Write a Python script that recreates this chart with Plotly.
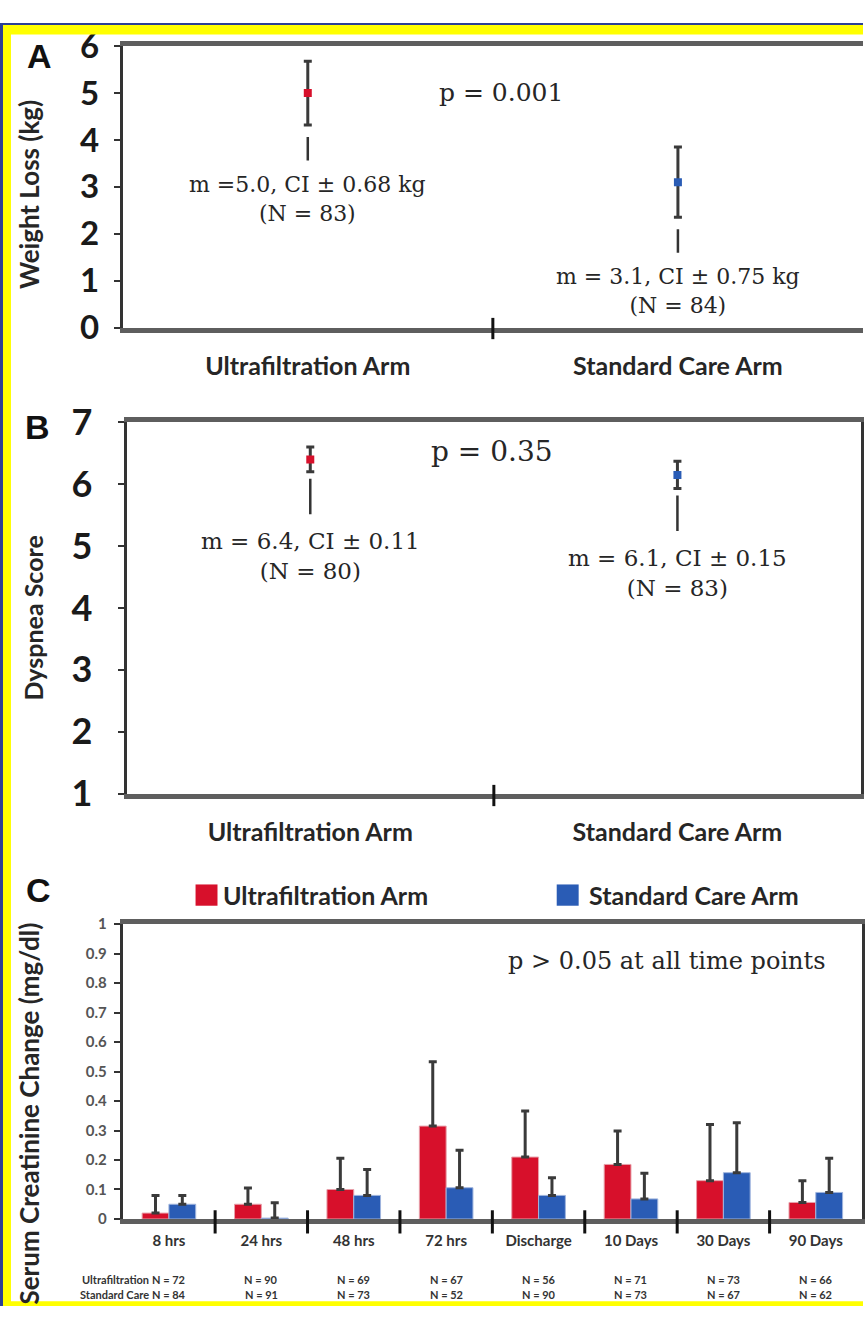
import plotly.graph_objects as go

W, H = 865, 1327

# ---------------- data ----------------
arms = ["Ultrafiltration Arm", "Standard Care Arm"]
arm_colors = ["#d7102b", "#2a5cb5"]

# Panel A: weight loss (kg)
weight_mean = [5.0, 3.1]
weight_ci = [0.68, 0.75]
weight_labels = ["m =5.0, CI ± 0.68 kg<br>(N = 83)", "m = 3.1, CI ± 0.75 kg<br>(N = 84)"]
weight_p = "p = 0.001"

# Panel B: dyspnea score
dyspnea_mean = [6.4, 6.15]
dyspnea_err = [0.2, 0.22]
dyspnea_labels = ["m = 6.4, CI ± 0.11<br>(N = 80)", "m = 6.1, CI ± 0.15<br>(N = 83)"]
dyspnea_p = "p = 0.35"

# Panel C: serum creatinine change (mg/dl)
timepoints = ["8 hrs", "24 hrs", "48 hrs", "72 hrs", "Discharge", "10 Days", "30 Days", "90 Days"]
uf_change = [0.02, 0.05, 0.10, 0.315, 0.21, 0.185, 0.13, 0.056]
uf_err = [0.06, 0.055, 0.106, 0.218, 0.156, 0.113, 0.19, 0.074]
sc_change = [0.05, 0.003, 0.08, 0.106, 0.08, 0.068, 0.157, 0.09]
sc_err = [0.03, 0.052, 0.088, 0.127, 0.06, 0.087, 0.169, 0.116]
uf_n = [72, 90, 69, 67, 56, 71, 73, 66]
sc_n = [84, 91, 73, 52, 90, 73, 67, 62]
creat_p = "p > 0.05 at all time points"
c_ticks = [0, 0.1, 0.2, 0.3, 0.4, 0.5, 0.6, 0.7, 0.8, 0.9, 1]
c_ticktext = ["0", "0.1", "0.2", "0.3", "0.4", "0.5", "0.6", "0.7", "0.8", "0.9", "1"]

# ---------------- styling ----------------
COND = "Lato, Roboto, sans-serif"
SERIF = "DejaVu Serif, Liberation Serif, serif"
SANS = "Liberation Sans, Arial, sans-serif"
ERR_COL = "#3a3a3a"
TXT = "#262626"


def px_x(p):
    return p / W


def px_y(p):
    return 1 - p / H


fig = go.Figure()

# Panel A
for i in range(2):
    fig.add_trace(go.Scatter(
        x=[arms[i]], y=[weight_mean[i]], mode="markers",
        marker=dict(symbol="square", size=8, color=arm_colors[i]),
        error_y=dict(type="data", array=[weight_ci[i]], color=ERR_COL, thickness=3, width=4),
        xaxis="x", yaxis="y", showlegend=False))

# Panel B
for i in range(2):
    fig.add_trace(go.Scatter(
        x=[arms[i]], y=[dyspnea_mean[i]], mode="markers",
        marker=dict(symbol="square", size=8, color=arm_colors[i]),
        error_y=dict(type="data", array=[dyspnea_err[i]], color=ERR_COL, thickness=3, width=4),
        xaxis="x2", yaxis="y2", showlegend=False))

# Panel C
fig.add_trace(go.Bar(
    x=timepoints, y=uf_change, name="Ultrafiltration Arm",
    marker=dict(color=arm_colors[0], line=dict(color="#e7a0aa", width=1)),
    error_y=dict(type="data", symmetric=False, array=uf_err, arrayminus=[0] * len(uf_err),
                 color=ERR_COL, thickness=3, width=4),
    xaxis="x3", yaxis="y3", showlegend=False))
fig.add_trace(go.Bar(
    x=timepoints, y=sc_change, name="Standard Care Arm",
    marker=dict(color=arm_colors[1], line=dict(color="#9fb4dd", width=1)),
    error_y=dict(type="data", symmetric=False, array=sc_err, arrayminus=[0] * len(sc_err),
                 color=ERR_COL, thickness=3, width=4),
    xaxis="x3", yaxis="y3", showlegend=False))

xcommon = dict(showgrid=False, zeroline=False, ticks="", showline=True,
               linecolor="#5e5e5e", linewidth=5, mirror=True, fixedrange=True)
ycommon = dict(showgrid=False, zeroline=False, ticks="outside", ticklen=6, tickwidth=2,
               tickcolor="#333", showline=True, linecolor="#333", linewidth=3)

fig.update_layout(
    width=W, height=H, margin=dict(l=0, r=0, t=0, b=0),
    paper_bgcolor="white", plot_bgcolor="white",
    bargap=0.42, bargroupgap=0, barmode="group",
    xaxis=dict(**xcommon, domain=[px_x(123), 1.0], anchor="y", range=[-0.5, 1.5],
               type="category", tickfont=dict(family=COND, size=25, color=TXT, weight="bold"),
               ticklabelstandoff=12),
    yaxis=dict(**ycommon, domain=[px_y(315), px_y(24)], anchor="x", range=[0, 6],
               tickvals=[0, 1, 2, 3, 4, 5, 6], mirror=False, ticklabelstandoff=8,
               tickfont=dict(family=COND, size=33, color="#1a1a1a", weight="bold")),
    xaxis2=dict(**xcommon, domain=[px_x(127), px_x(863)], anchor="y2", range=[-0.5, 1.5],
                type="category", tickfont=dict(family=COND, size=25, color=TXT, weight="bold"),
                ticklabelstandoff=12),
    yaxis2=dict(**ycommon, domain=[px_y(797), px_y(413)], anchor="x2", range=[1, 7],
                tickvals=[1, 2, 3, 4, 5, 6, 7], mirror=True, ticklabelstandoff=18,
                tickfont=dict(family=COND, size=36, color="#1a1a1a", weight="bold")),
    xaxis3=dict(**xcommon, domain=[px_x(123), px_x(864)], anchor="y3", range=[-0.5, 7.5],
                type="category", tickfont=dict(family=COND, size=15, color="#333", weight="bold"),
                ticklabelstandoff=4),
    yaxis3=dict(**ycommon, domain=[px_y(1237), px_y(932)], anchor="x3", range=[0, 1],
                tickvals=c_ticks, ticktext=c_ticktext, mirror=True, ticklabelstandoff=4,
                tickfont=dict(family=COND, size=15, color="#555", weight="bold")),
)

ann = []
shapes = []


def txt_ann(x, y, text, font, **kw):
    d = dict(x=x, y=y, xref="paper", yref="paper", text=text, showarrow=False,
             xanchor="center", yanchor="middle", font=font)
    d.update(kw)
    return d


# point labels with pointer lines
for i in range(2):
    ann.append(dict(x=arms[i], y=weight_mean[i] - weight_ci[i], xref="x", yref="y",
                    text=weight_labels[i], showarrow=True, arrowhead=0, arrowwidth=2.5,
                    arrowcolor="#333", ax=0, ay=74, standoff=12, startstandoff=10,
                    font=dict(family=SERIF, size=22, color=TXT)))
    ann.append(dict(x=arms[i], y=dyspnea_mean[i] - dyspnea_err[i], xref="x2", yref="y2",
                    text=dyspnea_labels[i], showarrow=True, arrowhead=0, arrowwidth=2.5,
                    arrowcolor="#333", ax=0, ay=84, standoff=7, startstandoff=12,
                    font=dict(family=SERIF, size=23, color=TXT)))

# p values
ann.append(txt_ann(px_x(502), px_y(72), weight_p, dict(family=SERIF, size=25, color=TXT)))
ann.append(txt_ann(px_x(493), px_y(443), dyspnea_p, dict(family=SERIF, size=28, color=TXT)))
ann.append(txt_ann(px_x(668), px_y(970), creat_p, dict(family=SERIF, size=24, color=TXT)))

# panel letters
for letter, (lx, ly) in zip(["A", "B", "C"], [(40, 34), (38, 418), (39, 897)]):
    ann.append(txt_ann(px_x(lx), px_y(ly), letter,
                       dict(family=SANS, size=34, color="#111", weight="bold")))

# y-axis titles
for txt, (tx, ty), fs in zip(["Weight Loss (kg)", "Dyspnea Score", "Serum Creatinine Change (mg/dl)"],
                             [(29, 177), (33, 615), (29, 1128)], [26, 25, 26]):
    ann.append(txt_ann(px_x(tx), px_y(ty), txt,
                       dict(family=COND, size=fs, color=TXT, weight="bold"), textangle=-90))

# legend for panel C
for i, (lx, tx) in enumerate([(207, 222), (569, 588)]):
    shapes.append(dict(type="rect", xref="paper", yref="paper",
                       x0=px_x(lx - 11), x1=px_x(lx + 11), y0=px_y(913), y1=px_y(891),
                       fillcolor=arm_colors[i], line=dict(width=0)))
    ann.append(txt_ann(px_x(tx), px_y(902), arms[i],
                       dict(family=COND, size=25, color=TXT, weight="bold"), xanchor="left"))

# N rows under panel C
nfont = dict(family=COND, size=11, color="#333", weight="bold")
for i, tp in enumerate(timepoints):
    ann.append(dict(x=tp, y=px_y(1300), xref="x3", yref="paper", text=f"N = {uf_n[i]}",
                    showarrow=False, xanchor="center", yanchor="middle", font=nfont))
    ann.append(dict(x=tp, y=px_y(1315), xref="x3", yref="paper", text=f"N = {sc_n[i]}",
                    showarrow=False, xanchor="center", yanchor="middle", font=nfont))
ann.append(dict(x=timepoints[0], y=px_y(1300), xref="x3", yref="paper", text="Ultrafiltration",
                xanchor="right", yanchor="middle", xshift=-18, showarrow=False, font=nfont))
ann.append(dict(x=timepoints[0], y=px_y(1315), xref="x3", yref="paper", text="Standard Care",
                xanchor="right", yanchor="middle", xshift=-18, showarrow=False, font=nfont))

# category separator ticks crossing the x axes
for xr, n, y0, y1 in [("x", 2, 305, 327), ("x2", 2, 788, 810),
                      ("x3", len(timepoints), 1228, 1252)]:
    for k in range(n - 1):
        shapes.append(dict(type="line", xref=xr, yref="paper", x0=k + 0.5, x1=k + 0.5,
                           y0=px_y(y1), y1=px_y(y0), line=dict(color="#111", width=3)))

# yellow/blue frame
frame_y = "#ffff00"
shapes += [
    dict(type="rect", xref="paper", yref="paper", x0=0, x1=1, y0=px_y(12), y1=1,
         fillcolor=frame_y, line=dict(width=0), layer="above"),
    dict(type="rect", xref="paper", yref="paper", x0=0, x1=px_x(11), y0=0, y1=1,
         fillcolor=frame_y, line=dict(width=0), layer="above"),
    dict(type="rect", xref="paper", yref="paper", x0=0, x1=1, y0=0, y1=px_y(1322),
         fillcolor=frame_y, line=dict(width=0), layer="above"),
    dict(type="rect", xref="paper", yref="paper", x0=0, x1=1, y0=px_y(2), y1=1,
         fillcolor="#2b3f96", line=dict(width=0), layer="above"),
    dict(type="rect", xref="paper", yref="paper", x0=0, x1=px_x(3), y0=0, y1=1,
         fillcolor="#2b3f96", line=dict(width=0), layer="above"),
]

fig.update_layout(annotations=ann, shapes=shapes)
fig.write_html(
    "out.html",
    config={"displayModeBar": False},
    post_script=(
        "document.body.style.margin='0px';document.body.style.overflow='hidden';"
        "document.documentElement.style.overflow='hidden';"
    ),
)
